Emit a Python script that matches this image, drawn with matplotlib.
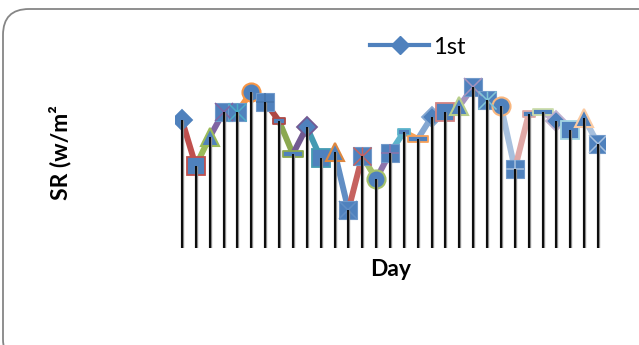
import numpy as np
import matplotlib
matplotlib.use("Agg")
import matplotlib.pyplot as plt
from matplotlib.patches import FancyBboxPatch
from matplotlib.lines import Line2D
from matplotlib.path import Path
from matplotlib.transforms import IdentityTransform

plt.rcParams['font.family'] = ['Lato', 'DejaVu Sans']

# Daily solar radiation values (day 1..31)
days = list(range(1, 32))
sr_values = [128, 82, 111, 136, 136, 156, 146, 127, 94, 121,
             90, 96, 38, 92, 69, 95, 116, 109, 131, 136,
             142, 161, 148, 142, 79, 134, 136, 127, 118, 130, 104]
series_name = "1st"
x_label = "Day"
y_label = "SR (w/m²"

BLUE = '#4F81BD'
base = ['#4F81BD', '#C0504D', '#9BBB59', '#8064A2', '#4BACC6', '#F79646']


def shade(hexcol, f):
    c = np.array(matplotlib.colors.to_rgb(hexcol))
    return tuple(np.clip(c * f, 0, 1))


def tint(hexcol, t):
    c = np.array(matplotlib.colors.to_rgb(hexcol))
    return tuple(c + (1 - c) * t)


# point colours: base palette, then darker, then progressively lighter variants
point_colors = []
for i in range(len(days)):
    grp, k = divmod(i, 6)
    if grp == 0:
        point_colors.append(base[k])
    elif grp == 1:
        point_colors.append(shade(base[k], 0.9))
    elif grp == 2:
        point_colors.append(tint(base[k], 0.1))
    elif grp == 3:
        point_colors.append(tint(base[k], 0.3))
    else:
        point_colors.append(tint(base[k], 0.5))

marker_cycle = ['diamond', 'square', 'triangle', 'xsq', 'starsq', 'circle',
                'plussq', 'dash', 'longdash']

short_dash = Path([(-1, -0.5), (1, -0.5), (1, 0.5), (-1, 0.5), (-1, -0.5)],
                  [Path.MOVETO, Path.LINETO, Path.LINETO, Path.LINETO, Path.CLOSEPOLY])
long_dash = Path([(-1, -0.25), (1, -0.25), (1, 0.25), (-1, 0.25), (-1, -0.25)],
                 [Path.MOVETO, Path.LINETO, Path.LINETO, Path.LINETO, Path.CLOSEPOLY])
asterisk = Path([(-1, -1), (1, 1), (-1, 1), (1, -1), (0, -1), (0, 1)],
                [Path.MOVETO, Path.LINETO, Path.MOVETO, Path.LINETO, Path.MOVETO, Path.LINETO])

fig = plt.figure(figsize=(6.39, 3.45), dpi=100)
fig.patch.set_facecolor('white')

# chart frame with rounded corners
frame = FancyBboxPatch((3, -20), 670, 356, boxstyle="round,pad=0,rounding_size=26",
                       transform=IdentityTransform(), facecolor='none',
                       edgecolor='#868686', linewidth=1.3, zorder=-1)
fig.patches.append(frame)

ax = fig.add_axes([175 / 639, 97 / 345, 430 / 639, 180 / 345])
ax.set_xlim(0.5, 31.5)
ax.set_ylim(0, 180)
ax.patch.set_visible(False)
for s in ax.spines.values():
    s.set_visible(False)
ax.set_xticks([])
ax.set_yticks([])

# coloured segments
for i in range(1, len(days)):
    ax.plot(days[i - 1:i + 1], sr_values[i - 1:i + 1], color=point_colors[i],
            lw=4.3, solid_capstyle='butt', zorder=2)

# markers
for i, (d, v) in enumerate(zip(days, sr_values)):
    kind = marker_cycle[i % len(marker_cycle)]
    ec = point_colors[i]
    if kind == 'diamond':
        ax.plot(d, v, marker='D', ms=10, mfc=BLUE, mec=ec, mew=1.3, zorder=3)
    elif kind == 'square':
        ax.plot(d, v, marker='s', ms=12.8, mfc=BLUE, mec=ec, mew=1.3, zorder=3)
    elif kind == 'triangle':
        ax.plot(d, v, marker='^', ms=13, mfc=BLUE, mec=ec, mew=1.5, zorder=3)
    elif kind == 'circle':
        ax.plot(d, v, marker='o', ms=13, mfc=BLUE, mec=ec, mew=1.5, zorder=3)
    elif kind in ('xsq', 'starsq', 'plussq'):
        ax.plot(d, v, marker='s', ms=13, mfc=BLUE, mec=tint(BLUE, 0.2), mew=0.8, zorder=3)
        sym = {'xsq': 'x', 'starsq': asterisk, 'plussq': '+'}[kind]
        ax.plot(d, v, marker=sym, ms=13, mec=ec, mew=1.1, zorder=3.1)
    elif kind == 'dash':
        ax.plot(d, v, marker=short_dash, ms=8.5, mfc=BLUE, mec=ec, mew=1.3, zorder=3)
    elif kind == 'longdash':
        ax.plot(d, v, marker=long_dash, ms=14.5, mfc=BLUE, mec=ec, mew=1.3, zorder=3)

# drop lines from each point to the category axis
ax.vlines(days, 0, sr_values, color='#8a8a8a', lw=2.4, zorder=4)
ax.vlines(days, 0, sr_values, color='black', lw=1.3, zorder=4.1)

# legend
handle = Line2D([], [], color=BLUE, lw=3, marker='D', ms=9, mfc=BLUE, mec=BLUE)
fig.legend([handle], [series_name], loc='center left',
           bbox_to_anchor=(370 / 639, 1 - 47 / 345), frameon=False,
           fontsize=17, handlelength=2.5, handletextpad=0.15, borderpad=0,
           borderaxespad=0)

fig.text(391 / 639, 1 - 269 / 345, x_label, ha='center', va='center',
         fontsize=16.5, fontweight='bold')
fig.text(60 / 639, 1 - 153 / 345, y_label, ha='center', va='center',
         rotation=90, fontsize=16.5, fontweight='bold')

fig.savefig('out.png', dpi=100)
